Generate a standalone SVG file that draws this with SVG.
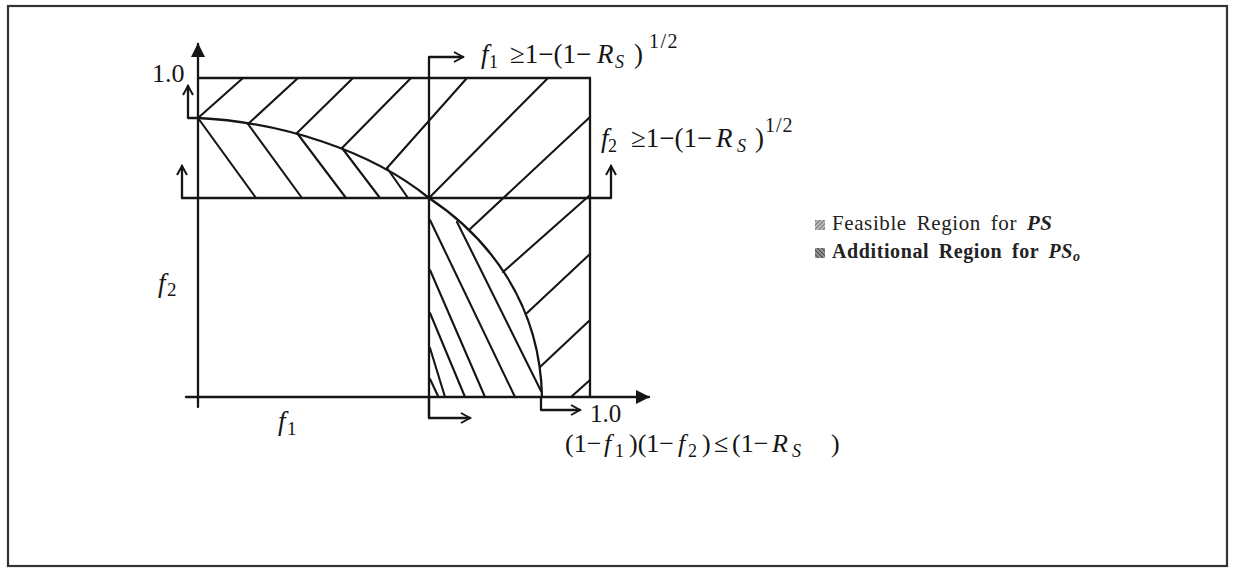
<svg xmlns="http://www.w3.org/2000/svg" width="1236" height="569" viewBox="0 0 1236 569">
<defs>
<style>
.ln{fill:none;stroke:#151515;stroke-width:2.3;stroke-linecap:round;stroke-linejoin:round}
.ht{fill:none;stroke:#151515;stroke-width:2.1;stroke-linecap:round}
.tx{font-family:"Liberation Serif","Times New Roman",serif;fill:#151515}
.it{font-style:italic}
.lg{font-family:"Liberation Serif","Times New Roman",serif;fill:#222;letter-spacing:0.6px;word-spacing:4px}
</style>
<marker id="open" viewBox="0 0 12 12" refX="10" refY="6" markerWidth="12" markerHeight="12" markerUnits="userSpaceOnUse" orient="auto">
<path d="M1,1 L10,6 L1,11" fill="none" stroke="#151515" stroke-width="2"/>
</marker>
<marker id="solid" viewBox="0 0 14 14" refX="13" refY="7" markerWidth="14" markerHeight="14" markerUnits="userSpaceOnUse" orient="auto">
<path d="M0,0 L14,7 L0,14 Z" fill="#151515"/>
</marker>
<pattern id="p1" width="3" height="3" patternUnits="userSpaceOnUse" patternTransform="rotate(45)">
<rect width="3" height="3" fill="#bbb"/><line x1="0" y1="0" x2="0" y2="3" stroke="#444" stroke-width="1.2"/>
</pattern>
<pattern id="p2" width="3" height="3" patternUnits="userSpaceOnUse" patternTransform="rotate(-45)">
<rect width="3" height="3" fill="#999"/><line x1="0" y1="0" x2="0" y2="3" stroke="#222" stroke-width="1.4"/>
</pattern>
</defs>
<rect x="0" y="0" width="1236" height="569" fill="#fff"/>
<rect x="8" y="6" width="1219" height="560" fill="none" stroke="#333" stroke-width="2.2"/>

<g id="axes">
<line class="ln" x1="198" y1="407" x2="198" y2="44" marker-end="url(#solid)"/>
<line class="ln" x1="186" y1="397" x2="649" y2="397" marker-end="url(#solid)"/>
</g>

<g id="region-lines">
<line class="ln" x1="198" y1="78" x2="590" y2="78"/>
<line class="ln" x1="590" y1="78" x2="590" y2="397"/>
<path class="ln" d="M198,118 C280,122 370,150 429,198"/>
<path class="ln" d="M429,198 C485,235 540,300 542,397"/>
</g>

<g id="hatch-feasible">
<line class="ht" x1="198" y1="118" x2="243" y2="78"/>
<line class="ht" x1="248" y1="124" x2="298" y2="78"/>
<line class="ht" x1="297" y1="133" x2="353" y2="78"/>
<line class="ht" x1="342" y1="148" x2="411" y2="78"/>
<line class="ht" x1="387" y1="168" x2="467" y2="78"/>
<line class="ht" x1="429" y1="198" x2="548" y2="78"/>
<line class="ht" x1="469" y1="230" x2="590" y2="117"/>
<line class="ht" x1="503" y1="272" x2="590" y2="195"/>
<line class="ht" x1="527" y1="313" x2="590" y2="254"/>
<line class="ht" x1="540" y1="367" x2="590" y2="320"/>
<line class="ht" x1="571" y1="397" x2="590" y2="380"/>
</g>

<g id="hatch-additional">
<line class="ht" x1="198" y1="118" x2="256" y2="198"/>
<line class="ht" x1="248" y1="124" x2="302" y2="198"/>
<line class="ht" x1="297" y1="133" x2="346" y2="198"/>
<line class="ht" x1="342" y1="148" x2="380" y2="198"/>
<line class="ht" x1="387" y1="168" x2="408" y2="198"/>
<line class="ht" x1="457" y1="222" x2="541" y2="391"/>
<line class="ht" x1="430" y1="220" x2="515" y2="397"/>
<line class="ht" x1="430" y1="270" x2="485" y2="397"/>
<line class="ht" x1="430" y1="313" x2="465" y2="397"/>
<line class="ht" x1="430" y1="348" x2="445" y2="397"/>
<line class="ht" x1="430" y1="379" x2="438" y2="396"/>
</g>

<g id="connectors">
<path class="ln" d="M429,418 V57 H463" marker-end="url(#open)"/>
<path class="ln" d="M429,397 V418 H470" marker-end="url(#open)"/>
<path class="ln" d="M541,397 V410 H580" marker-end="url(#open)"/>
<path class="ln" d="M198,118 H188 V86" marker-end="url(#open)"/>
<path class="ln" d="M182,198 H611 V166" marker-end="url(#open)"/>
<path class="ln" d="M182,198 V166" marker-end="url(#open)"/>
</g>

<g id="labels">
<text class="tx" x="590" y="422" font-size="25">1.0</text>
<text class="tx" x="152" y="82" font-size="26">1.0</text>
<text class="tx" font-size="27"><tspan class="it" x="158" y="292">f</tspan><tspan x="167" y="296" font-size="19">2</tspan></text>
<text class="tx" font-size="27"><tspan class="it" x="278" y="430">f</tspan><tspan x="287" y="435" font-size="19">1</tspan></text>
</g>

<g id="formula-f1">
<text class="tx" font-size="27"><tspan class="it" x="481" y="63">f</tspan><tspan x="489" y="68" font-size="18">1</tspan><tspan x="510" y="63">≥1−(1−</tspan><tspan class="it" x="597" y="63">R</tspan><tspan class="it" x="615" y="68" font-size="18">S</tspan><tspan x="634" y="63">)</tspan><tspan x="649" y="48" font-size="20" letter-spacing="1.5">1/2</tspan></text>
</g>

<g id="formula-f2">
<text class="tx" font-size="27"><tspan class="it" x="601" y="147">f</tspan><tspan x="608" y="152" font-size="18">2</tspan><tspan x="631" y="147">≥1−(1−</tspan><tspan class="it" x="716" y="147">R</tspan><tspan class="it" x="737" y="152" font-size="18">S</tspan><tspan x="755" y="147">)</tspan><tspan x="765" y="132" font-size="20" letter-spacing="1">1/2</tspan></text>
</g>

<g id="formula-product">
<text class="tx" font-size="26"><tspan x="565" y="452">(1−</tspan><tspan class="it" x="604" y="452">f</tspan><tspan x="615" y="457" font-size="18">1</tspan><tspan x="629" y="452">)(1−</tspan><tspan class="it" x="678" y="452">f</tspan><tspan x="688" y="457" font-size="18">2</tspan><tspan x="702" y="452">)</tspan><tspan x="714" y="452">≤</tspan><tspan x="732" y="452">(1−</tspan><tspan class="it" x="772" y="452">R</tspan><tspan class="it" x="792" y="457" font-size="18">S</tspan><tspan x="831" y="452">)</tspan></text>
</g>

<g id="legend">
<rect x="815" y="220" width="10" height="10" fill="url(#p1)"/>
<text class="lg" x="832" y="230" font-size="21">Feasible Region for <tspan font-style="italic" font-weight="bold">PS</tspan></text>
<rect x="815" y="248" width="10" height="10" fill="url(#p2)"/>
<text class="lg" x="832" y="258" font-weight="bold" font-size="20">Additional Region for <tspan font-style="italic">PS</tspan><tspan font-style="italic" font-size="14" dy="3">o</tspan></text>
</g>
</svg>
